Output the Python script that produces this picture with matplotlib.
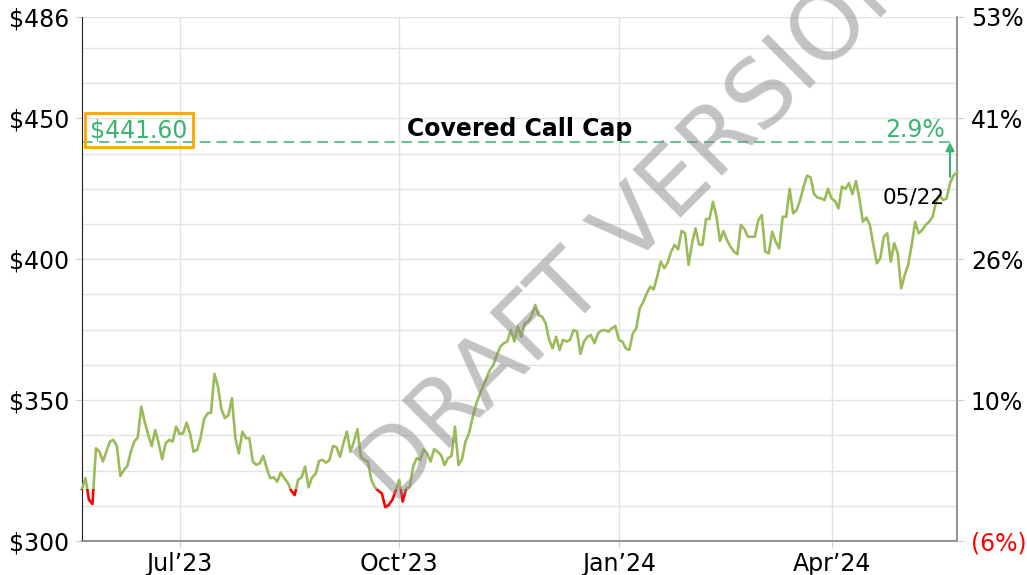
import numpy as np
import pandas as pd
import matplotlib
matplotlib.use('Agg')
from matplotlib import pyplot as plt
from matplotlib.patches import Rectangle

# daily closes 05/22/2023 - 05/22/2024
prices = [318.5, 322.3, 314.6, 313.1, 332.9, 331.7, 328.2, 331.7, 335.3, 335.9,
          333.7, 323.1, 325.2, 326.6, 331.7, 335.3, 336.8, 347.7, 342.3, 337.6,
          333.7, 339.4, 334.7, 329.0, 334.7, 335.9, 335.3, 340.6, 338.0, 338.2,
          342.0, 338.2, 331.7, 332.3, 336.5, 343.2, 345.3, 345.5, 359.3, 354.8,
          346.8, 343.6, 344.7, 350.7,
          336.5, 331.1, 338.8, 336.5, 336.5, 328.2, 327.0, 327.6, 330.2, 325.8,
          322.3, 322.6, 321.1, 324.3, 322.3, 320.7, 317.9, 316.3, 321.7, 322.6,
          326.4, 319.1, 322.6, 323.8, 328.4, 328.8, 327.8, 328.8, 333.7, 333.3,
          329.9, 334.7, 338.8, 331.7, 335.3, 339.7, 329.9, 328.8, 328.2, 321.7,
          319.1, 317.9, 316.9, 312.0, 312.8, 314.6, 317.9, 321.7, 314.0, 318.7,
          319.1, 326.4, 329.4,
          328.8, 332.6, 331.1, 328.2, 332.6, 331.7, 330.5, 327.0, 329.4, 330.2,
          340.6, 327.0, 329.0, 335.3, 338.2, 343.6, 348.3, 351.8, 354.8, 357.8,
          360.7, 362.5, 366.0, 369.0, 370.2, 370.8, 374.9, 370.8, 376.1, 372.5,
          377.3, 377.9, 379.9, 383.8, 380.2, 379.6, 377.3, 371.4, 368.4, 372.5,
          367.8, 371.4,
          370.8, 371.4, 374.9, 374.3, 366.4, 370.8, 372.5, 373.1, 370.2, 373.7,
          374.7, 374.9, 374.3, 375.5, 376.3, 371.4, 370.8, 368.4, 367.8, 373.7,
          375.5, 382.6, 384.9, 387.9, 390.3, 389.3, 393.8, 399.2, 396.8, 398.8,
          402.7, 405.1, 403.5, 410.1, 409.2, 398.0, 405.7, 411.0, 405.3, 405.1,
          414.3, 414.3, 420.4, 415.1, 406.5, 410.0, 406.9, 404.5, 402.7, 401.8,
          412.2, 410.8, 408.0, 408.0, 408.0, 413.9, 415.7, 402.7, 402.1, 409.8,
          406.2, 403.9, 415.1, 415.1, 425.0, 416.3, 417.5, 421.0, 425.8, 429.7,
          429.0, 423.1, 421.9, 421.6, 421.0, 425.0, 421.6,
          420.7, 418.1, 425.8, 425.0, 427.0, 423.1, 427.8, 421.6, 413.3, 414.8,
          412.2, 405.1, 398.6, 400.4, 408.0, 409.2, 399.2, 405.7, 402.1, 389.7,
          394.4, 398.0, 405.1, 413.3, 409.2, 410.4, 412.2, 413.3, 415.1, 420.4,
          422.8, 421.0, 421.6, 427.0, 429.7, 430.9]

holidays = ['2023-05-29', '2023-06-19', '2023-07-04', '2023-09-04', '2023-11-23',
            '2023-12-25', '2024-01-01', '2024-01-15', '2024-02-19', '2024-03-29']
dates = pd.bdate_range('2023-05-22', '2024-05-22', freq='C', holidays=holidays)

cap_price = 441.60
cap_text = '$441.60'
cap_title = 'Covered Call Cap'
upside_text = '2.9%'
arrow_from = 429.2
last_label = '05/22'
tick_months = ['2023-07', '2023-10', '2024-01', '2024-04']
y_major = [300, 350, 400, 450, 486]
y_minor = [312.5, 325, 337.5, 362.5, 375, 387.5, 412.5, 425, 437.5, 462.5, 475]

base = prices[0]
line_green = '#9BBB59'
cap_green = '#3CB371'
fs = 17

n = len(prices)
x = np.arange(n)

fig = plt.figure(figsize=(10.27, 5.75), dpi=100)
ax = fig.add_axes([82/1027, 1-541/575, 875/1027, 524/575])
ax.set_xlim(0, n - 1)
ax.set_ylim(300, 486)

# price line, red below the start price
g, = ax.plot(x, prices, color=line_green, lw=1.9, zorder=3)
r, = ax.plot(x, prices, color='red', lw=1.9, zorder=3)
g.set_clip_path(Rectangle((-10, base), n + 20, 500, transform=ax.transData))
r.set_clip_path(Rectangle((-10, 0), n + 20, base, transform=ax.transData))

# cap line + labels
ax.axhline(cap_price, color=cap_green, lw=1.1, ls=(0, (7, 4)), zorder=2)
ax.annotate(cap_text, xy=(0, cap_price), xycoords=('axes fraction', 'data'),
            xytext=(8, 0), textcoords='offset pixels', ha='left', va='bottom',
            fontsize=fs, color=cap_green,
            bbox=dict(boxstyle='square,pad=0.22', fc='none', ec='#FFA500', lw=2))
ax.annotate(cap_title, xy=(0.5, cap_price), xycoords=('axes fraction', 'data'),
            xytext=(0, 1), textcoords='offset pixels', ha='center', va='bottom',
            fontsize=17, fontweight='bold', color='black')
ax.annotate(upside_text, xy=(0.986, cap_price), xycoords=('axes fraction', 'data'),
            xytext=(0, 0), textcoords='offset pixels', ha='right', va='bottom',
            fontsize=fs, color=cap_green)
ax.annotate('', xy=(n - 3, cap_price), xytext=(n - 3, arrow_from),
            arrowprops=dict(arrowstyle='-|>,head_width=0.25,head_length=0.5',
                            color=cap_green, lw=1.5, shrinkA=0, shrinkB=0))
ax.text(0.986, 422.0, last_label, transform=ax.get_yaxis_transform(),
        ha='right', va='center', fontsize=15.5, color='black')

# axes styling
tick_pos = [int(np.argmax(dates.strftime('%Y-%m') == m)) for m in tick_months]
ax.set_xticks(tick_pos)
ax.set_xticklabels([dates[i].strftime('%b\u2019%y') for i in tick_pos], fontsize=fs)
ax.set_yticks(y_major)
ax.set_yticks(y_minor, minor=True)
ax.set_yticklabels(['$%d' % v for v in y_major], fontsize=fs)
ax.grid(True, which='both', color='#e3e3e3', lw=1)
ax.set_axisbelow(True)
ax.tick_params(axis='y', which='major', length=4, color='#cccccc', pad=5)
ax.tick_params(axis='y', which='minor', length=0)
ax.tick_params(axis='x', length=4, color='#cccccc', pad=4)
ax.spines['top'].set_visible(False)
ax.spines['left'].set_color('#222222')
ax.spines['bottom'].set_color('#888888')
ax.spines['bottom'].set_linewidth(1.3)
ax.spines['right'].set_color('#888888')
ax.spines['right'].set_linewidth(1.3)

ax2 = ax.twinx()
ax2.set_position(ax.get_position())
ax2.set_ylim(ax.get_ylim())
ax2.set_yticks(y_major)
pct_labels = []
for v in y_major:
    p = v / base - 1
    pct_labels.append('%d%%' % round(p * 100) if p >= 0 else '(%d%%)' % round(-p * 100))
ax2.set_yticklabels(pct_labels, fontsize=fs)
for lab, v in zip(ax2.get_yticklabels(), y_major):
    if v < base:
        lab.set_color('red')
ax2.tick_params(axis='y', length=5, color='#cccccc', pad=5)
for s in ['top', 'left', 'bottom', 'right']:
    ax2.spines[s].set_visible(False)

# watermark
fig.text(640/1027, 1 - 222/575, 'DRAFT VERSION', fontsize=67, color='#888888',
         alpha=0.5, rotation=45, ha='center', va='center', rotation_mode='anchor',
         zorder=10)

fig.savefig('out.png', dpi=100)
